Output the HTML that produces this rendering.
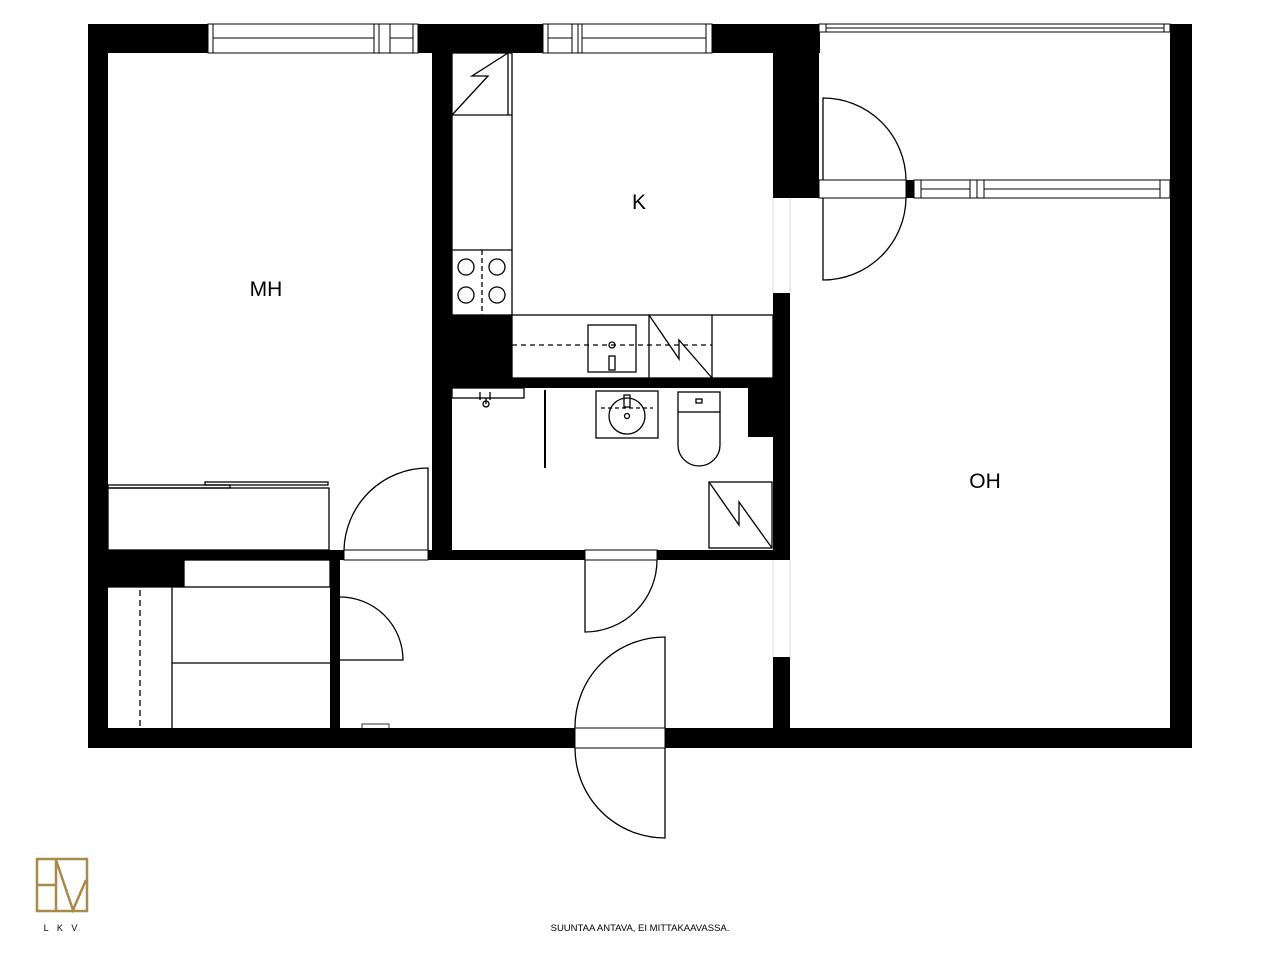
<!DOCTYPE html>
<html><head><meta charset="utf-8"><style>
html,body{margin:0;padding:0;background:#fff;}
svg{display:block;}
text{font-family:"Liberation Sans",sans-serif;}
</style></head><body>
<svg width="1280" height="960" viewBox="0 0 1280 960" xmlns="http://www.w3.org/2000/svg">
<g fill="#000">
 <!-- outer walls -->
 <rect x="88" y="24" width="732" height="29"/>
 <rect x="1170" y="24" width="22" height="724"/>
 <rect x="88" y="24" width="20" height="724"/>
 <rect x="88" y="728" width="1104" height="20"/>
 <!-- balcony left wall -->
 <rect x="773" y="24" width="46" height="174"/>
 <!-- interior walls -->
 <rect x="432" y="53" width="20" height="507"/>
 <rect x="88" y="550" width="702" height="10"/>
 <rect x="773" y="293" width="17" height="267"/>
 <rect x="773" y="657" width="17" height="80"/>
 <rect x="452" y="378" width="338" height="10"/>
 <rect x="452" y="315" width="60" height="63"/>
 <rect x="748" y="388" width="25" height="49"/>
 <rect x="108" y="550" width="76" height="37"/>
 <rect x="330" y="560" width="10" height="168"/>
 <rect x="906" y="180" width="8" height="18"/>
</g>
<g fill="#fff" stroke="#000" stroke-width="1">
 <!-- windows -->
 <rect x="208" y="24" width="210" height="29"/>
 <line x1="213" y1="24" x2="213" y2="53"/><line x1="213" y1="38" x2="374" y2="38"/>
 <line x1="374" y1="24" x2="374" y2="53"/><line x1="379" y1="24" x2="379" y2="53"/>
 <line x1="390" y1="24" x2="390" y2="53"/><line x1="390" y1="38" x2="413" y2="38"/><line x1="413" y1="24" x2="413" y2="53"/>
 <rect x="543" y="24" width="169" height="29"/>
 <line x1="548" y1="24" x2="548" y2="53"/><line x1="548" y1="38" x2="572" y2="38"/><line x1="572" y1="24" x2="572" y2="53"/>
 <line x1="578" y1="24" x2="578" y2="53"/><line x1="582" y1="24" x2="582" y2="53"/><line x1="582" y1="38" x2="706" y2="38"/><line x1="706" y1="24" x2="706" y2="53"/>
 <rect x="819" y="24" width="351" height="8"/>
 <line x1="826" y1="24" x2="826" y2="32"/><line x1="826" y1="28" x2="1164" y2="28"/><line x1="1164" y1="24" x2="1164" y2="32"/>
 <rect x="819" y="180" width="87" height="18"/>
 <rect x="914" y="180" width="256" height="18"/>
 <line x1="921" y1="180" x2="921" y2="198"/><line x1="921" y1="189" x2="970" y2="189"/><line x1="970" y1="180" x2="970" y2="198"/>
 <line x1="977" y1="180" x2="977" y2="198"/><line x1="984" y1="180" x2="984" y2="198"/><line x1="984" y1="189" x2="1160" y2="189"/><line x1="1160" y1="180" x2="1160" y2="198"/>
 <!-- door openings -->
 <rect x="344" y="550" width="84" height="10"/>
 <rect x="585" y="550" width="72" height="10"/>
 <rect x="575" y="728" width="90" height="20"/>
 <line x1="773" y1="198" x2="773" y2="293" stroke="#ddd"/><line x1="790" y1="198" x2="790" y2="293" stroke="#ddd"/>
 <line x1="773" y1="560" x2="773" y2="657" stroke="#ddd"/><line x1="790" y1="560" x2="790" y2="657" stroke="#ddd"/>
</g>
<g fill="none" stroke="#000" stroke-width="1.3">
 <!-- door swings -->
 <path d="M428 550 V468 A84 84 0 0 0 344 550"/>
 <path d="M340 660 H403 A63 63 0 0 0 340 597"/>
 <path d="M585 560 V632 A72 72 0 0 0 657 560"/>
 <path d="M665 728 V637 A90 90 0 0 0 575 728"/>
 <path d="M665 748 V838 A90 90 0 0 1 575 748"/>
 <path d="M823 180 V98 A83 83 0 0 1 906 180"/>
 <path d="M823 198 V280 A83 83 0 0 0 906 198"/>
 <!-- MH wardrobe -->
 <rect x="108" y="488" width="221" height="62"/>
 <rect x="108" y="485" width="122" height="3"/><rect x="205" y="482" width="123" height="3"/>
 <!-- small closet -->
 <rect x="184" y="560" width="146" height="27"/>
 <line x1="172" y1="587" x2="172" y2="728"/><line x1="108" y1="587" x2="184" y2="587"/>
 <line x1="172" y1="663" x2="330" y2="663"/>
 <line x1="140" y1="590" x2="140" y2="728" stroke-dasharray="6 4"/>
 <rect x="362" y="724" width="27" height="5" stroke-width="0.8"/>
 <!-- kitchen -->
 <rect x="452" y="53" width="60" height="262"/>
 <line x1="452" y1="115" x2="512" y2="115"/><line x1="508" y1="53" x2="508" y2="115"/>
 <path d="M452 115 L488 76 L472 76 L508 53"/>
 <line x1="452" y1="250" x2="512" y2="250"/>
 <circle cx="466" cy="267" r="8"/><circle cx="497" cy="267" r="8"/>
 <circle cx="466" cy="295" r="8"/><circle cx="497" cy="295" r="8"/>
 <line x1="482" y1="250" x2="482" y2="315" stroke-dasharray="5 3"/>
 <rect x="512" y="315" width="261" height="63"/>
 <rect x="588" y="325" width="48" height="47"/>
 <line x1="649" y1="315" x2="649" y2="378"/><line x1="712" y1="315" x2="712" y2="378"/>
 <path d="M649 315 L679 359 L679 340 L712 378"/>
 <line x1="512" y1="345" x2="712" y2="345" stroke-dasharray="5 4"/>
 <circle cx="612" cy="345" r="3"/><rect x="609" y="356" width="6" height="14"/>
 <!-- bathroom -->
 <rect x="452" y="388" width="72" height="10"/>
 <path d="M480 392 v8 M490 392 v8 M486 398 v6"/><circle cx="486" cy="404" r="3"/>
 <line x1="545" y1="390" x2="545" y2="468" stroke-width="2"/>
 <rect x="596" y="391" width="62" height="47"/>
 <circle cx="627" cy="416" r="18"/><circle cx="627" cy="416" r="2.5"/>
 <rect x="624" y="395" width="6" height="12"/>
 <line x1="601" y1="408" x2="653" y2="408" stroke-dasharray="4 3"/>
 <rect x="678" y="392" width="42" height="20"/>
 <path d="M678 412 V445 A21 21 0 0 0 720 445 V412"/>
 <rect x="696" y="399" width="6" height="4"/>
 <rect x="709" y="482" width="63" height="66"/>
 <path d="M709 482 L739 525 L739 502 L772 548"/>
</g>
<g font-size="21" fill="#000" text-anchor="middle">
 <text x="266" y="296">MH</text>
 <text x="639" y="209">K</text>
 <text x="985" y="488">OH</text>
</g>
<!-- logo -->
<g fill="none" stroke="#a88a4a" stroke-width="2.5">
 <rect x="37" y="859" width="50" height="52"/>
 <line x1="38" y1="885" x2="55" y2="885"/>
 <line x1="56" y1="860" x2="56" y2="910"/>
 <path d="M56 860 L73 910 L86 880"/>
</g>
<text x="62" y="931" font-size="9" text-anchor="middle" letter-spacing="3">L K V</text>
<text x="640" y="931" font-size="9.5" text-anchor="middle">SUUNTAA ANTAVA, EI MITTAKAAVASSA.</text>
</svg>
</body></html>
